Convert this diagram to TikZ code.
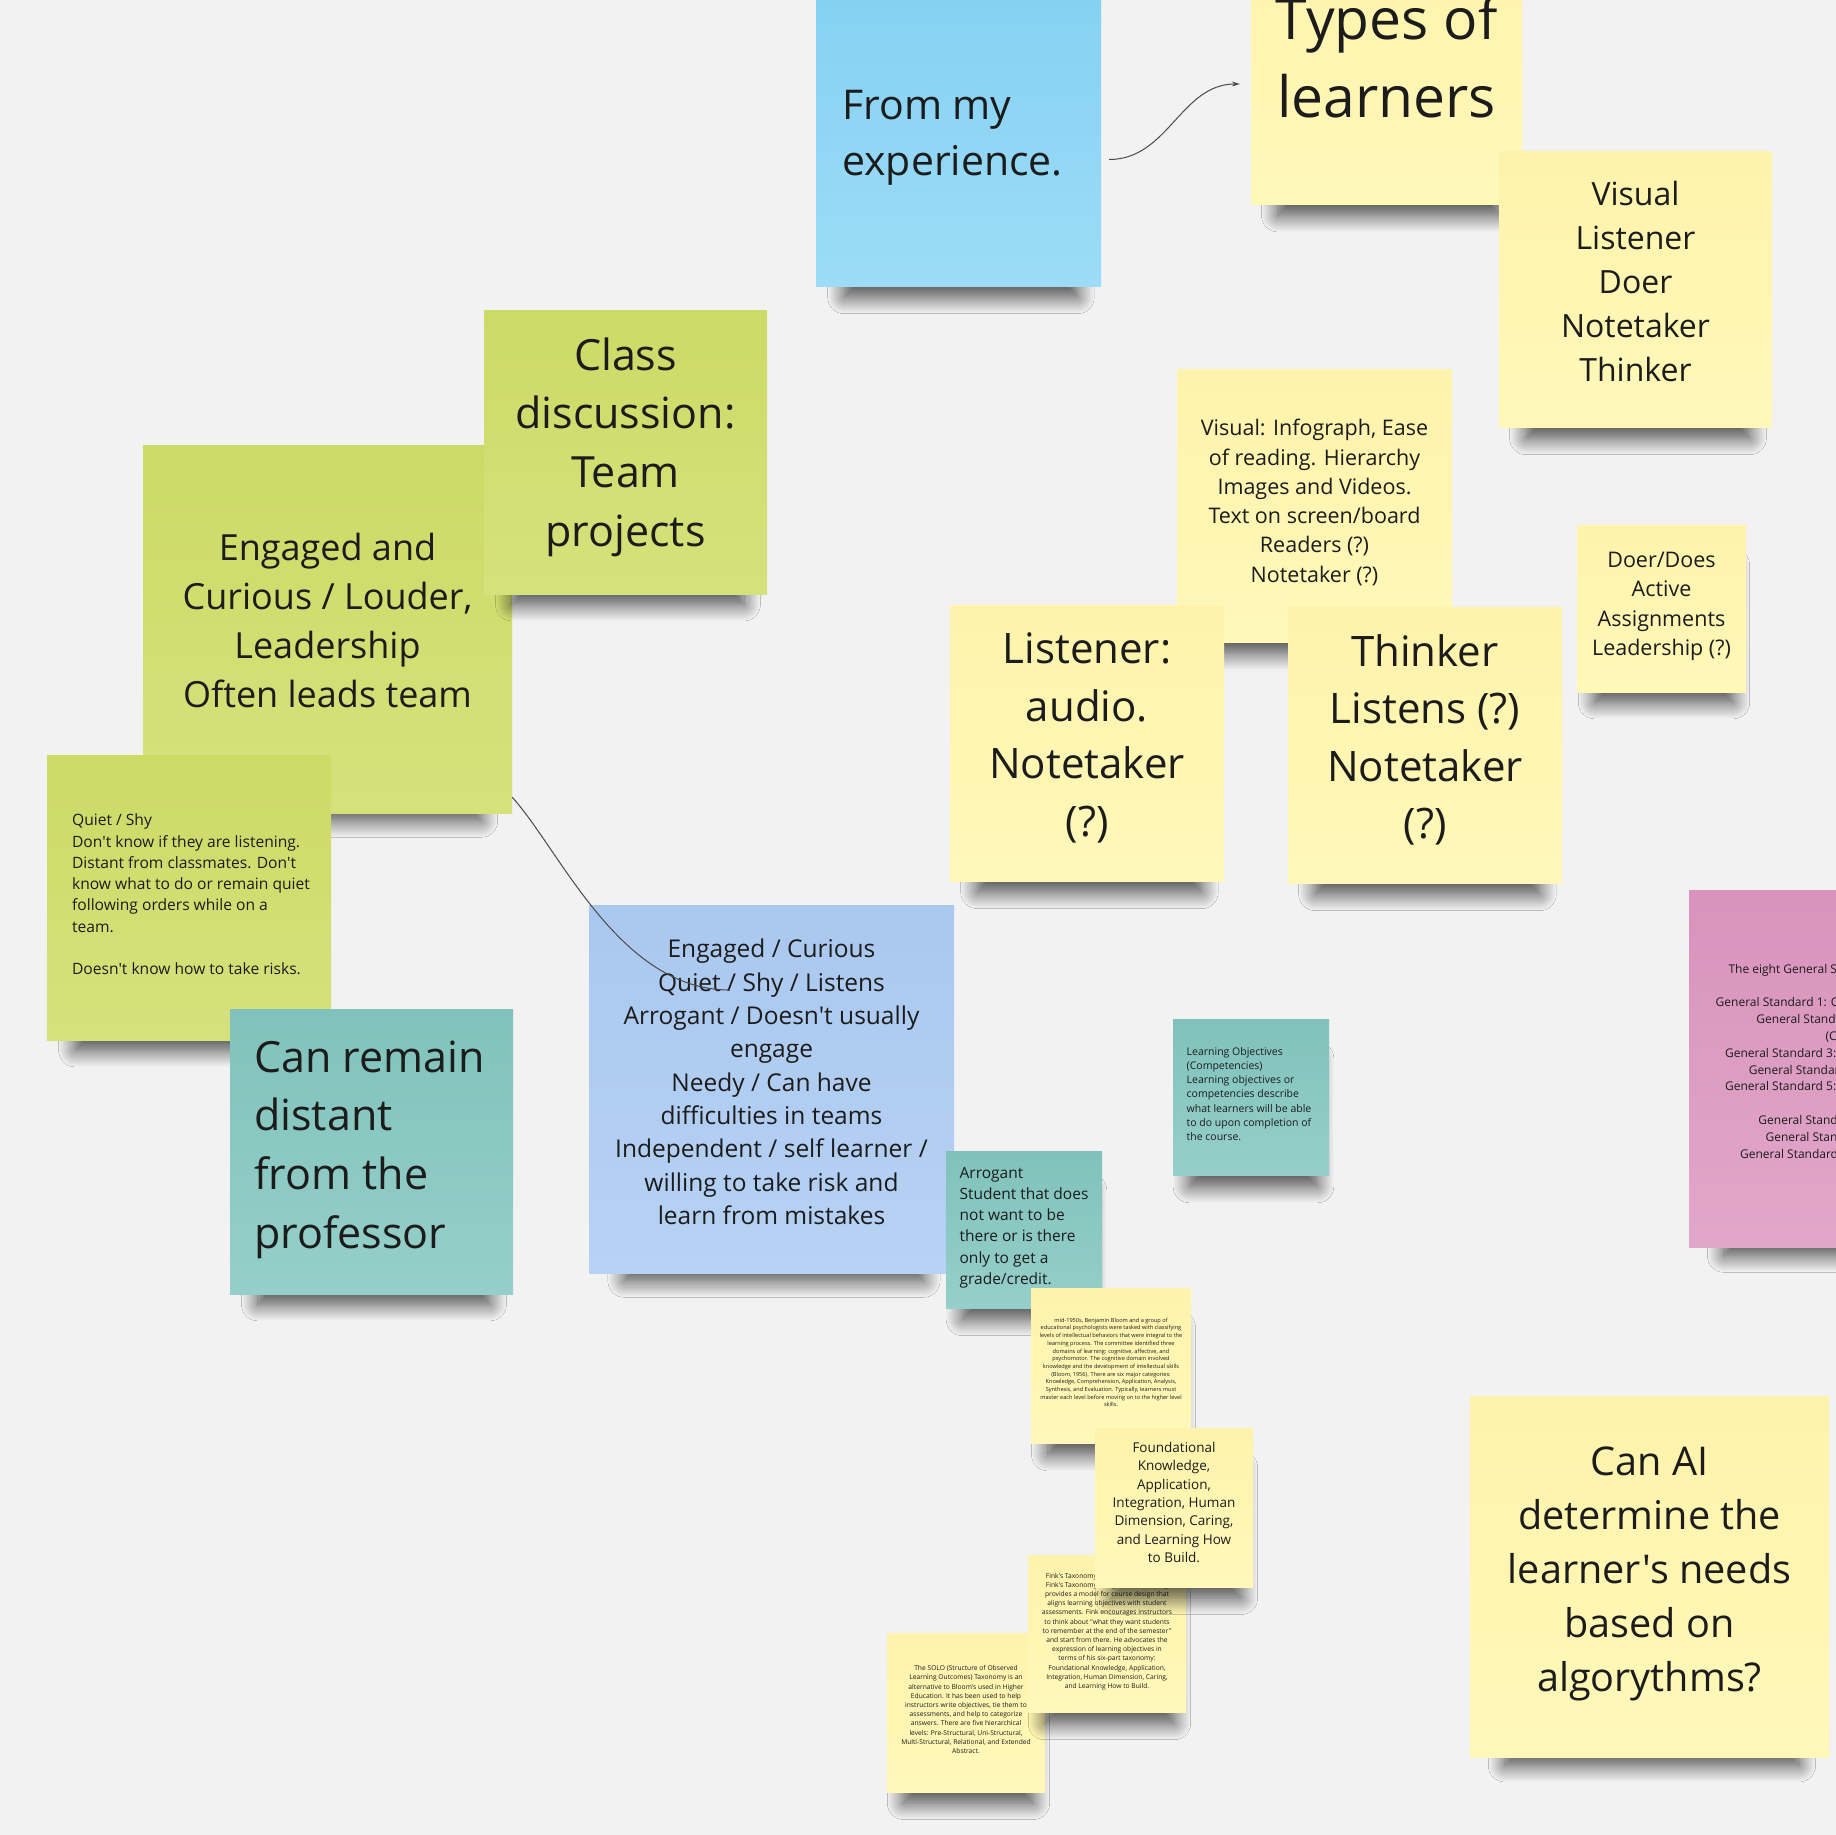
\documentclass[tikz,border=0pt]{standalone}
\usepackage{fontspec}
\setmainfont{Open Sans}[Ligatures=TeXOff]
\usepackage{tikz}
\usetikzlibrary{shadows.blur}
\usetikzlibrary{arrows.meta}
\hyphenpenalty=10000
\exhyphenpenalty=10000

\definecolor{board}{HTML}{F2F2F2}
\definecolor{ink}{HTML}{1C1C1C}
\definecolor{wireC}{HTML}{4A4A4A}
\definecolor{ylwA}{HTML}{FEF3AC}
\definecolor{ylwB}{HTML}{FFF8B9}
\definecolor{grnA}{HTML}{CCDA66}
\definecolor{grnB}{HTML}{D5E27C}
\definecolor{tqlA}{HTML}{80C2BB}
\definecolor{tqlB}{HTML}{96CFCA}
\definecolor{skyA}{HTML}{86D1F2}
\definecolor{skyB}{HTML}{9CDCF7}
\definecolor{bluA}{HTML}{AAC8EF}
\definecolor{bluB}{HTML}{B6D2F4}
\definecolor{pnkA}{HTML}{D993BC}
\definecolor{pnkB}{HTML}{E1A7C9}

\tikzset{
  note/.style={rectangle, inner sep=0pt,
    blur shadow={shadow xshift=3pt, shadow yshift=#1, shadow scale=0.82,
      shadow blur radius=20pt, shadow blur steps=16, shadow opacity=70}},
  note/.default=-44pt,
  sz/.style 2 args={minimum width=#1pt, minimum height=#2pt},
  ct/.style 2 args={font=\fontsize{#1}{#2}\selectfont, text=ink, align=center},
  lt/.style 2 args={font=\fontsize{#1}{#2}\selectfont, text=ink, align=left},
  ylw/.style={note=#1, top color=ylwA, bottom color=ylwB}, ylw/.default=-44pt,
  grn/.style={note=#1, top color=grnA, bottom color=grnB}, grn/.default=-44pt,
  tql/.style={note=#1, top color=tqlA, bottom color=tqlB}, tql/.default=-44pt,
  sky/.style={note=#1, top color=skyA, bottom color=skyB}, sky/.default=-44pt,
  blu/.style={note=#1, top color=bluA, bottom color=bluB}, blu/.default=-44pt,
  pnk/.style={note=#1, top color=pnkA, bottom color=pnkB}, pnk/.default=-44pt,
  wire/.style={wireC, line width=1pt}
}

\begin{document}
\begin{tikzpicture}[x=1pt, y=-1pt, >={Stealth[length=8pt,width=5pt]}]

% 1. board
\useasboundingbox (0,0) rectangle (1836,1835);
\fill[board] (0,0) rectangle (1836,1835);
\clip (0,0) rectangle (1836,1835);

% 2. top row: experience -> types of learners
\node[ylw, sz={271}{284}, label={[ct={57}{78}, yshift=6pt]center:{Types of\\learners}}] (Types) at (1386.5,63) {};
\node[ylw, sz={273}{275}, label={[ct={32}{44}, yshift=8pt]center:{Visual\\Listener\\Doer\\Notetaker\\Thinker}}] (Kinds) at (1635.5,289.5) {};
\node[sky, sz={285}{287}, label={[lt={41}{56}, xshift=-6pt, yshift=6pt]center:{From my\\experience.}}] (Exp) at (958.5,143.5) {};

% 3. learner notes
\node[ylw, sz={275}{273}, label={[ct={21.5}{29.3}, yshift=3pt]center:{Visual: Infograph, Ease\\of reading. Hierarchy\\Images and Videos.\\Text on screen/board\\Readers (?)\\Notetaker (?)}}] (Vis) at (1314.5,505.5) {};
\node[ylw, sz={274}{276}, label={[ct={42}{57.5}, yshift=5pt]center:{Listener:\\audio.\\Notetaker\\(?)}}] (Lis) at (1087,743) {};
\node[ylw, sz={274}{276}, label={[ct={42}{57.5}, yshift=5pt]center:{Thinker\\Listens (?)\\Notetaker\\(?)}}] (Thk) at (1425,745) {};
\node[ylw=-31pt, sz={169}{167}, label={[ct={21.5}{29.3}, yshift=2pt]center:{Doer/Does\\Active\\Assignments\\Leadership (?)}}] (Doer) at (1661.5,608.5) {};

% 4. class discussion group
\node[grn=-50pt, sz={369}{368}, label={[ct={36}{49}, yshift=9pt]center:{Engaged and\\Curious / Louder,\\Leadership\\Often leads team}}] (Eng) at (327.5,629) {};
\node[grn, sz={283}{284}, label={[ct={43}{58.6}, yshift=5pt]center:{Class\\discussion:\\Team\\projects}}] (Cls) at (625.5,452) {};
\node[grn, sz={284}{285}, label={[lt={15.6}{21.3}, xshift=2pt, yshift=3pt]center:{Quiet / Shy\\Don't know if they are listening.\\Distant from classmates. Don't\\know what to do or remain quiet\\following orders while on a\\team.\\[21.3pt]Doesn't know how to take risks.}}] (Shy) at (189,897.5) {};
\node[tql, sz={283}{285}, label={[lt={43}{58.6}, xshift=-2pt, yshift=2pt]center:{Can remain\\distant\\from the\\professor}}] (Dist) at (371.5,1151.5) {};
\node[blu=-50pt, sz={365}{368}, label={[ct={24.5}{33.3}, yshift=7pt]center:{Engaged / Curious\\Quiet / Shy / Listens\\Arrogant / Doesn't usually\\engage\\Needy / Can have\\difficulties in teams\\Independent / self learner /\\willing to take risk and\\learn from mistakes}}] (List) at (771.5,1089) {};
\draw[wire] ([yshift=16pt]Eng.south east) .. controls +(48,53) and +(-110,0) .. ([xshift=-42pt,yshift=99pt]List.center);

% 5. objectives and taxonomies
\node[tql=-31pt, sz={156}{156}, label={[lt={10.5}{14.3}, xshift=-2pt, yshift=3pt]center:{Learning Objectives\\(Competencies)\\Learning objectives or\\competencies describe\\what learners will be able\\to do upon completion of\\the course.}}] (Obj) at (1251,1097) {};
\node[tql=-31pt, sz={156}{157}, label={[lt={15.5}{21.2}, yshift=2pt]center:{Arrogant\\Student that does\\not want to be\\there or is there\\only to get a\\grade/credit.}}] (Arr) at (1024,1229.5) {};
\node[ylw=-31pt, sz={160}{155}, label={[ct={5.6}{7.7}, yshift=3pt]center:{mid-1950s, Benjamin Bloom and a group of\\educational psychologists were tasked with classifying\\levels of intellectual behaviors that were integral to the\\learning process.  The committee identified three\\domains of learning: cognitive, affective, and\\psychomotor. The cognitive domain involved\\knowledge and the development of intellectual skills\\(Bloom, 1956). There are six major categories:\\Knowledge, Comprehension, Application, Analysis,\\Synthesis, and Evaluation. Typically, learners must\\master each level before moving on to the higher level\\skills.}}] (Bloom) at (1111,1365.5) {};
\node[ylw=-31pt, sz={158}{159}, label={[ct={6.7}{9.2}, yshift=3pt]center:{The SOLO (Structure of Observed\\Learning Outcomes) Taxonomy is an\\alternative to Bloom's used in Higher\\Education. It has been used to help\\instructors write objectives, tie them to\\assessments, and help to categorize\\answers. There are five hierarchical\\levels: Pre-Structural, Uni-Structural,\\Multi-Structural, Relational, and Extended\\Abstract.}}] (Solo) at (966,1712.5) {};
\node[ylw=-31pt, sz={158}{157}, label={[ct={6.7}{9.2}, yshift=2pt]center:{Fink's Taxonomy of Significant Learning\\Fink's Taxonomy of Significant Learning\\provides a model for course design that\\aligns learning objectives with student\\assessments. Fink encourages instructors\\to think about "what they want students\\to remember at the end of the semester"\\and start from there. He advocates the\\expression of learning objectives in\\terms of his six-part taxonomy:\\Foundational Knowledge, Application,\\Integration, Human Dimension, Caring,\\and Learning How to Build.}}] (Fink) at (1107,1633.5) {};
\node[ylw=-31pt, sz={158}{159}, label={[ct={13.5}{18.3}, yshift=5pt]center:{Foundational\\Knowledge,\\Application,\\Integration, Human\\Dimension, Caring,\\and Learning How\\to Build.}}] (Found) at (1174,1507.5) {};

% 6. right side
\node[pnk=-50pt, sz={360}{357}, label={[ct={12}{16.8}, yshift=6pt]center:{The eight General Standards of the QM Rubric are:\\[16.8pt]General Standard 1: Course Overview and Introduction\\General Standard 2: Learning Objectives\\(Competencies)\\General Standard 3: Assessment and Measurement\\General Standard 4: Instructional Materials\\General Standard 5: Learning Activities and Learner\\Interaction\\General Standard 6: Course Technology\\General Standard 7: Learner Support\\General Standard 8: Accessibility and Usability}}] (QM) at (1869,1068.5) {};
\node[ylw=-50pt, sz={359}{361}, label={[ct={39.6}{54}, yshift=3pt]center:{Can AI\\determine the\\learner's needs\\based on\\algorythms?}}] (AI) at (1649.5,1576.5) {};

% 7. arrow
\draw[wire, ->] ([xshift=8pt,yshift=-16pt]Exp.east) to[out=0, in=180] ([xshift=-11pt,yshift=-21pt]Types.west);
\end{tikzpicture}
\end{document}
